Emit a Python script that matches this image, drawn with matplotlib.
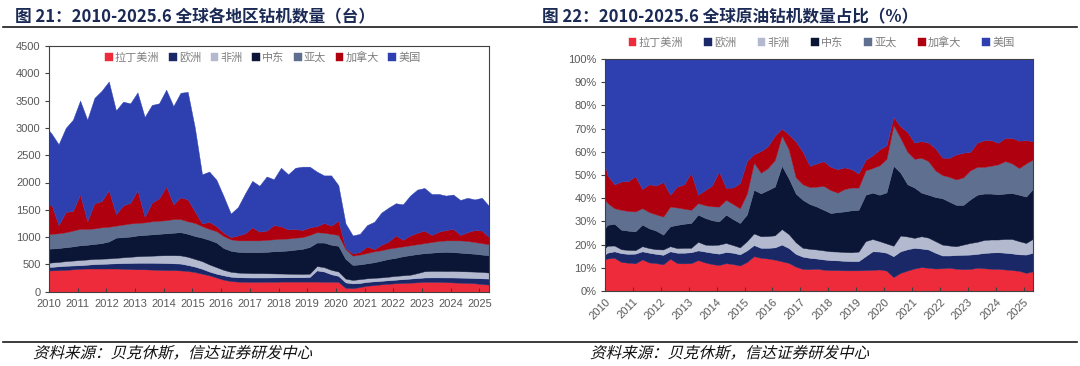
import matplotlib
matplotlib.use('Agg')
import matplotlib.pyplot as plt
from matplotlib.lines import Line2D
from matplotlib.textpath import TextPath
from matplotlib.patches import PathPatch
from matplotlib.font_manager import FontProperties
from matplotlib.transforms import Affine2D, IdentityTransform
import pandas as pd
import numpy as np

plt.rcParams['font.family'] = ['Noto Sans CJK SC', 'DejaVu Sans']

# sample dates: Jan 2010, then quarterly from Feb 2010 to May 2025
dates = pd.DatetimeIndex(['2010-01-01']).append(pd.date_range('2010-02-01', '2025-05-01', freq='3MS'))

regions = ['拉丁美洲', '欧洲', '非洲', '中东', '亚太', '加拿大', '美国']
years = [str(y) for y in range(2010, 2026)]

# rig counts by region (units: rigs)
la = [390, 390, 395, 400, 410, 420, 425, 425, 425, 425, 425, 420, 415, 410, 410, 405, 400,
      395, 395, 390, 380, 360, 330, 300, 260, 220, 195, 185, 182, 180, 180, 182, 182,
      185, 185, 185, 185, 185, 185, 182, 182, 180, 70, 65, 85, 110, 120, 135, 145,
      155, 160, 165, 172, 180, 180, 178, 175, 170, 165, 160, 155, 140, 130]
eu = [65, 65, 70, 75, 70, 65, 70, 80, 85, 90, 95, 105, 112, 120, 120, 125, 128,
      130, 125, 125, 110, 100, 90, 70, 70, 80, 80, 80, 80, 80, 80, 78, 80,
      78, 79, 80, 80, 85, 205, 188, 138, 110, 100, 87, 75, 70, 70, 65, 65,
      65, 70, 75, 78, 80, 82, 84, 86, 90, 93, 95, 95, 105, 110]
af = [75, 80, 80, 85, 90, 95, 95, 95, 95, 95, 100, 105, 113, 120, 125, 130, 137,
      143, 148, 150, 150, 140, 140, 130, 120, 100, 90, 85, 83, 80, 80, 78, 73,
      70, 66, 63, 60, 60, 80, 80, 80, 80, 70, 63, 70, 65, 65, 62, 65,
      70, 70, 70, 90, 115, 118, 118, 117, 120, 117, 117, 118, 117, 110]
me = [260, 255, 255, 255, 260, 270, 270, 275, 285, 310, 370, 370, 370, 380, 385, 390, 395,
      402, 412, 425, 420, 420, 430, 450, 450, 400, 385, 380, 380, 385, 385, 392, 405,
      412, 425, 442, 460, 490, 430, 450, 460, 470, 360, 275, 270, 275, 285, 308, 325,
      330, 350, 360, 350, 330, 335, 345, 352, 345, 340, 333, 327, 318, 320]
ap = [270, 270, 270, 275, 290, 300, 290, 285, 290, 270, 220, 230, 240, 230, 230, 240, 240,
      240, 250, 240, 230, 240, 210, 200, 210, 220, 210, 210, 215, 215, 215, 220, 220,
      225, 220, 220, 215, 220, 190, 180, 200, 200, 180, 170, 180, 190, 200, 190, 190,
      190, 180, 180, 180, 185, 195, 205, 210, 215, 225, 225, 215, 210, 200]
ca = [520, 540, 150, 370, 360, 630, 140, 460, 480, 670, 210, 350, 380, 600, 100, 340, 410,
      620, 270, 400, 400, 210, 50, 130, 90, 60, 40, 90, 130, 240, 160, 170, 260,
      230, 165, 160, 130, 140, 110, 180, 150, 260, 20, 40, 50, 120, 40, 100, 130,
      220, 120, 180, 210, 230, 130, 170, 190, 210, 100, 160, 220, 230, 130]
us = [1370, 1300, 1480, 1540, 1670, 1720, 1860, 1930, 2020, 1990, 1900, 1900, 1820,
      1790, 1830, 1790, 1740, 1770, 1800, 1913, 1970, 1530, 900, 920, 850,
      670, 430, 520, 730, 850, 840, 990, 840, 1070, 1010, 1120, 1160,
      1110, 1000, 870, 920, 650, 450, 330, 330, 390, 500, 590, 620,
      590, 650, 730, 790, 780, 750, 690, 630, 630, 640, 630, 560, 600, 570]

# share of crude oil rigs by region (%)
la_p = [13.6, 14.0, 14.3, 12.5, 12.2, 11.9, 13.6, 12.3, 12.0, 11.5, 13.9, 12.0, 11.9,
        12.0, 13.3, 12.3, 11.6, 11.2, 12.0, 11.6, 11.0, 12.5, 15.0, 14.3, 14.0,
        13.5, 12.8, 12.1, 10.5, 9.5, 9.4, 9.6, 9.2, 9.0, 9.0, 8.9, 8.9,
        8.9, 9.0, 9.1, 9.3, 8.8, 6.0, 7.8, 8.8, 9.7, 10.3, 10.0, 9.7,
        9.8, 10.0, 9.6, 9.4, 9.5, 10.0, 9.8, 9.6, 9.5, 9.3, 9.0, 8.7, 7.8, 8.5]
eu_p = [2.1, 2.5, 2.8, 3.8, 3.8, 4.2, 3.5, 4.2, 4.0, 4.1, 3.2, 4.5, 4.6,
        4.7, 4.2, 4.7, 4.9, 4.9, 4.8, 4.9, 4.8, 5.0, 4.8, 4.3, 4.6,
        5.3, 7.2, 6.4, 5.5, 5.3, 4.9, 4.4, 4.4, 4.3, 4.2, 4.1, 4.0,
        4.0, 6.0, 8.0, 7.7, 7.7, 9.0, 9.3, 9.2, 8.9, 8.0, 7.9, 6.8,
        5.5, 5.3, 5.9, 6.2, 6.2, 6.0, 6.6, 7.0, 7.2, 7.2, 7.2, 7.1, 7.9, 8.0]
af_p = [2.9, 3.0, 2.5, 1.7, 1.7, 1.5, 2.2, 2.0, 2.0, 2.3, 2.2, 2.0, 2.1,
        1.9, 3.7, 3.0, 3.3, 3.9, 3.9, 3.3, 3.0, 4.0, 5.0, 5.0, 5.1,
        5.2, 6.7, 6.0, 5.0, 3.8, 3.9, 3.9, 3.9, 3.8, 3.8, 3.8, 3.8,
        4.1, 6.5, 5.3, 4.5, 4.0, 4.5, 6.8, 5.5, 4.3, 5.3, 5.1, 5.0,
        4.7, 4.3, 3.8, 4.4, 5.0, 5.2, 5.6, 5.6, 5.5, 5.9, 6.2, 5.7, 5.0, 6.0]
me_p = [8.5, 9.0, 9.4, 8.4, 8.3, 8.1, 9.3, 8.5, 8.0, 6.4, 8.6, 10.0, 10.4,
        10.7, 11.7, 11.5, 10.7, 10.0, 12.2, 11.2, 10.5, 11.5, 18.8, 18.5, 19.8,
        21.0, 27.3, 24.0, 21.0, 20.7, 19.3, 18.5, 17.5, 16.5, 17.0, 17.5, 18.1,
        18.0, 20.0, 20.0, 20.0, 22.0, 34.5, 27.1, 22.5, 21.7, 18.8, 18.5, 19.0,
        20.0, 18.9, 17.8, 17.1, 18.8, 20.3, 20.0, 19.8, 19.5, 19.6, 19.8, 20.0, 20.0, 21.5]
ap_p = [12.2, 9.5, 6.7, 8.6, 8.5, 8.6, 7.1, 7.0, 7.0, 7.8, 8.5, 7.5, 6.5,
        5.7, 5.0, 5.5, 6.0, 6.4, 6.4, 6.5, 6.4, 9.0, 11.7, 8.9, 9.5,
        11.5, 13.0, 12.5, 7.0, 6.7, 7.3, 8.6, 10.3, 9.9, 8.4, 9.7, 9.8,
        9.6, 10.5, 10.6, 12.7, 14.5, 17.5, 15.0, 14.0, 12.4, 15.0, 14.5, 11.5,
        10.0, 10.7, 11.0, 11.9, 12.5, 12.0, 11.5, 12.0, 12.9, 14.0, 12.8, 11.5, 14.3, 12.7]
ca_p = [15.3, 12.0, 10.3, 12.2, 12.9, 15.2, 8.3, 12.0, 12.5, 14.9, 5.1, 9.0, 10.5,
        16.0, 3.6, 6.5, 9.0, 15.1, 5.2, 7.1, 10.8, 14.0, 3.7, 9.3, 9.4,
        10.5, 3.0, 6.5, 15.5, 14.0, 9.2, 10.0, 10.7, 10.0, 10.1, 9.3, 7.9,
        6.1, 4.5, 5.5, 6.8, 5.8, 3.5, 5.0, 8.5, 7.0, 7.2, 8.0, 9.5,
        7.5, 8.2, 10.8, 10.6, 8.0, 10.5, 11.5, 11.0, 9.3, 10.0, 11.0, 11.8, 10.0, 7.9]
us_p = [45.4, 50.0, 54.0, 52.8, 52.6, 50.5, 56.0, 54.0, 54.5, 53.0, 58.5, 55.0, 54.0,
        49.0, 58.5, 56.5, 54.5, 48.5, 55.5, 55.4, 53.5, 44.0, 41.0, 39.7, 37.6,
        33.0, 30.0, 32.5, 35.5, 40.0, 46.0, 45.0, 44.0, 46.5, 47.5, 46.7, 47.5,
        49.3, 43.5, 41.5, 39.0, 37.2, 25.0, 29.0, 31.5, 36.0, 35.4, 36.0, 38.5,
        42.5, 42.6, 41.1, 40.4, 40.0, 36.0, 35.0, 35.0, 36.1, 34.0, 34.0, 35.2, 35.0, 35.4]

colors = ['#EE2B3B', '#1A2868', '#B3BAD0', '#0B1636', '#5F6F8F', '#AF0010', '#2E40B0']
grey = '#595959'
navy = '#1B2A55'

# x position = months since Jan 2010 (category-style axis)
x = (dates.year - 2010) * 12 + dates.month - 1
xmax = x[-1]

W, H = 1080, 366
fig = plt.figure(figsize=(W / 100, H / 100), dpi=100)


def style_axes(ax):
    for s in ax.spines.values():
        s.set_color('#404040')
        s.set_linewidth(0.8)
    ax.set_xlim(0, xmax)
    ax.set_xticks(np.arange(0, 181, 12))
    ax.tick_params(axis='x', direction='in', length=3, pad=5, colors='#404040', labelcolor=grey)
    ax.tick_params(axis='y', direction='out', length=3, pad=3, colors='#404040', labelcolor=grey)
    ax.tick_params(right=False, top=False)


def num_font(ax):
    for lab in ax.get_xticklabels() + ax.get_yticklabels():
        lab.set_fontfamily(['Liberation Sans', 'DejaVu Sans'])
        lab.set_fontsize(8)


# left: rig counts
ax1 = fig.add_axes([49 / W, 1 - 291.7 / H, 440 / W, 245.7 / H])
ax1.stackplot(x, la, eu, af, me, ap, ca, us, colors=colors, labels=regions,
              edgecolor='face', linewidth=0.3)
ax1.set_ylim(0, 4500)
ax1.set_yticks(range(0, 4501, 500))
style_axes(ax1)
ax1.set_xticklabels(years)
num_font(ax1)
ax1.legend(loc='center', bbox_to_anchor=(0.486, 0.955), ncol=7, frameon=False,
           fontsize=8, handlelength=0.7, handleheight=0.7, handletextpad=0.2,
           columnspacing=0.85, labelcolor='#7F7F7F', borderpad=0)

# right: crude oil rig share
ax2 = fig.add_axes([605 / W, 1 - 291 / H, 428 / W, 232 / H])
ax2.stackplot(x, la_p, eu_p, af_p, me_p, ap_p, ca_p, us_p, colors=colors, labels=regions,
              edgecolor='face', linewidth=0.3)
ax2.set_ylim(0, 100)
ax2.set_yticks(range(0, 101, 10))
style_axes(ax2)
ax2.tick_params(axis='x', pad=4)
ax2.set_yticklabels([f'{v}%' for v in range(0, 101, 10)])
ax2.set_xticklabels(years, rotation=45, ha='right', va='top', rotation_mode='anchor')
num_font(ax2)
ax2.legend(loc='center', bbox_to_anchor=(0.506, 1.073), ncol=7, frameon=False,
           fontsize=8, handlelength=0.7, handleheight=0.7, handletextpad=0.2,
           columnspacing=1.9, labelcolor='#7F7F7F', borderpad=0)

# titles and rules
fig.text(15 / W, 1 - 17 / H, '图 21：2010-2025.6 全球各地区钻机数量（台）', fontsize=12,
         fontweight='bold', color=navy, va='center', ha='left')
fig.text(542 / W, 1 - 17 / H, '图 22：2010-2025.6 全球原油钻机数量占比（%）', fontsize=12,
         fontweight='bold', color=navy, va='center', ha='left')
fig.add_artist(Line2D([3 / W, 1077 / W], [1 - 27 / H] * 2, color='#1a1a1a', lw=1.2))
fig.add_artist(Line2D([3 / W, 1077 / W], [1 - 342 / H] * 2, color='#1a1a1a', lw=1.2))

# source notes, slanted like the kaiti italics of the original
src = '资料来源：贝克休斯，信达证券研发中心'
fp = FontProperties(family='Noto Sans CJK SC')
for x0 in (33, 590):
    tp = TextPath((0, 0), src, size=15.5, prop=fp)
    tr = Affine2D().skew_deg(14, 0).translate(x0, H - 358)
    fig.add_artist(PathPatch(tr.transform_path(tp), transform=IdentityTransform(),
                             facecolor='#111111', edgecolor='none'))

plt.savefig('out.png', dpi=100)
